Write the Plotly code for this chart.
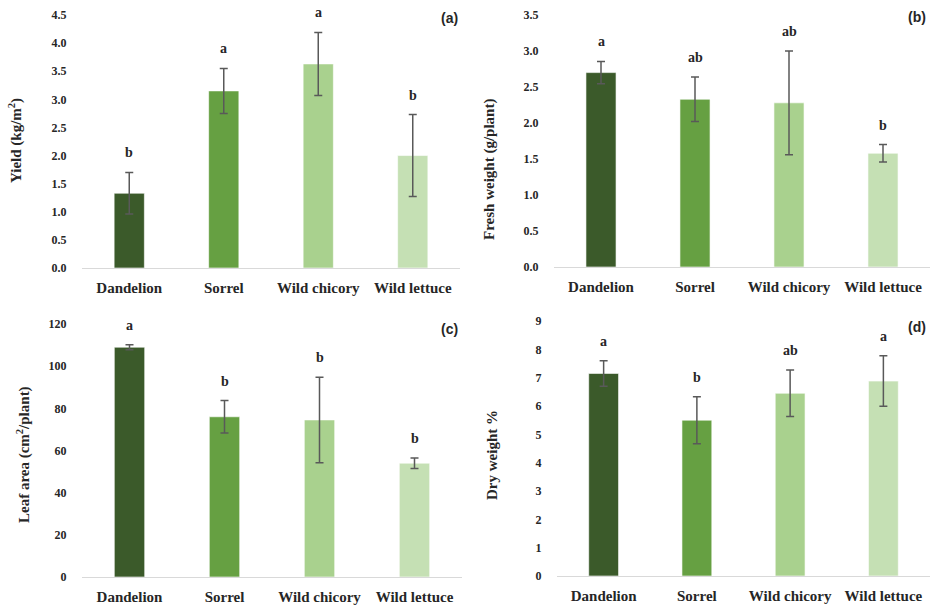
import plotly.graph_objects as go

categories = ["Dandelion", "Sorrel", "Wild chicory", "Wild lettuce"]
colors = ["#3b5a2a", "#66a042", "#a9d18e", "#c5e0b4"]

yield_vals = [1.33, 3.15, 3.63, 2.00]
yield_err = [0.37, 0.40, 0.56, 0.73]
yield_letters = ["b", "a", "a", "b"]

fresh_vals = [2.70, 2.33, 2.28, 1.58]
fresh_err = [0.155, 0.31, 0.72, 0.12]
fresh_letters = ["a", "ab", "ab", "b"]

leaf_vals = [109.0, 76.0, 74.5, 54.0]
leaf_err = [1.2, 7.7, 20.3, 2.5]
leaf_letters = ["a", "b", "b", "b"]

dry_vals = [7.15, 5.50, 6.45, 6.88]
dry_err = [0.45, 0.83, 0.82, 0.89]
dry_letters = ["a", "b", "ab", "a"]

W, H = 931, 608
SERIF = "Palatino Linotype, Book Antiqua, Liberation Serif, serif"
TXT = "#262626"

panels = [
    dict(vals=yield_vals, err=yield_err, letters=yield_letters, label="(a)",
         title="Yield (kg/m<sup>2</sup>)", rng=[0, 4.5], dtick=0.5, fmt=".1f",
         px=(82, 460), py=(15, 268), title_xy=(15, 141), label_xy=(460, 18)),
    dict(vals=fresh_vals, err=fresh_err, letters=fresh_letters, label="(b)",
         title="Fresh weight (g/plant)", rng=[0, 3.5], dtick=0.5, fmt=".1f",
         px=(554, 930), py=(15, 267), title_xy=(490, 170), label_xy=(928, 17)),
    dict(vals=leaf_vals, err=leaf_err, letters=leaf_letters, label="(c)",
         title="Leaf area (cm<sup>2</sup>/plant)", rng=[0, 120], dtick=20, fmt="d",
         px=(82, 462), py=(324, 577), title_xy=(23, 455), label_xy=(460, 329)),
    dict(vals=dry_vals, err=dry_err, letters=dry_letters, label="(d)",
         title="Dry weight %", rng=[0, 9], dtick=1, fmt="d",
         px=(557, 930), py=(321, 576), title_xy=(492, 455), label_xy=(928, 327)),
]

fig = go.Figure()
annotations = []
for i, p in enumerate(panels, start=1):
    xa = "x" if i == 1 else f"x{i}"
    ya = "y" if i == 1 else f"y{i}"
    fig.add_trace(go.Bar(
        x=categories, y=p["vals"], xaxis=xa, yaxis=ya,
        marker=dict(color=colors, line=dict(color="rgba(255,255,255,0.6)", width=1)),
        error_y=dict(type="data", array=p["err"], color="#595959", thickness=1.5, width=4),
        showlegend=False, hoverinfo="x+y",
    ))
    x0, x1 = p["px"]
    y0, y1 = p["py"]
    xkey = "xaxis" if i == 1 else f"xaxis{i}"
    ykey = "yaxis" if i == 1 else f"yaxis{i}"
    fig.update_layout(**{
        xkey: dict(domain=[x0 / W, x1 / W], anchor=ya, showline=True, linecolor="#d9d9d9",
                   linewidth=1, showgrid=False, ticks="outside", ticklen=6,
                   tickcolor="rgba(0,0,0,0)", automargin=False,
                   tickfont=dict(family=SERIF, size=15, color=TXT, weight="bold"),
                   categoryorder="array", categoryarray=categories),
        ykey: dict(domain=[1 - y1 / H, 1 - y0 / H], anchor=xa, range=p["rng"],
                   dtick=p["dtick"], tickformat=p["fmt"], showgrid=False, zeroline=False,
                   showline=False, ticks="outside", ticklen=12, tickcolor="rgba(0,0,0,0)",
                   automargin=False,
                   tickfont=dict(family=SERIF, size=12, color=TXT, weight="bold")),
    })
    for c, v, e, l in zip(categories, p["vals"], p["err"], p["letters"]):
        annotations.append(dict(x=c, y=v + e, xref=xa, yref=ya, text=f"<b>{l}</b>",
                                showarrow=False, yanchor="bottom", yshift=10,
                                font=dict(family=SERIF, size=14, color=TXT)))
    tx, ty = p["title_xy"]
    annotations.append(dict(x=tx / W, y=1 - ty / H, xref="paper", yref="paper",
                            text=f"<b>{p['title']}</b>", textangle=-90, showarrow=False,
                            xanchor="center", yanchor="middle",
                            font=dict(family=SERIF, size=15, color=TXT)))
    lx, ly = p["label_xy"]
    annotations.append(dict(x=lx / W, y=1 - ly / H, xref="paper", yref="paper",
                            text=f"<b>{p['label']}</b>", showarrow=False,
                            xanchor="right", yanchor="middle",
                            font=dict(family="Liberation Sans, Arial, sans-serif", size=14,
                                      color=TXT)))

fig.update_layout(
    width=W, height=H, margin=dict(l=0, r=0, t=0, b=0, autoexpand=False),
    paper_bgcolor="white", plot_bgcolor="white",
    bargap=0.68, annotations=annotations,
)

fig.write_html("out.html", config={"displayModeBar": False},
               post_script="document.body.style.margin='0';document.body.style.overflow='hidden';")
